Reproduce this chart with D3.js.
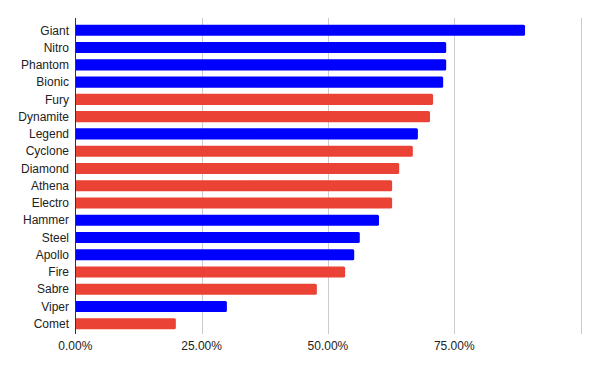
<!DOCTYPE html>
<html>
<head>
<meta charset="utf-8">
<script src="https://cdn.jsdelivr.net/npm/d3@7"></script>
<style>
  body { margin: 0; background: #fff; }
  text { font-family: "Liberation Sans", Arial, sans-serif; }
</style>
</head>
<body>
<div id="chart"></div>
<script>
// categories, top to bottom
const names = ['Giant', 'Nitro', 'Phantom', 'Bionic', 'Fury', 'Dynamite', 'Legend', 'Cyclone', 'Diamond',
    'Athena', 'Electro', 'Hammer', 'Steel', 'Apollo', 'Fire', 'Sabre', 'Viper', 'Comet'];
// share values (fraction)
const values = [0.890, 0.734, 0.734, 0.728, 0.708, 0.702, 0.678, 0.668, 0.641,
    0.627, 0.627, 0.601, 0.563, 0.552, 0.534, 0.478, 0.300, 0.199];
// group of each bar: 'b' = blue, 'r' = red
const groups = ['b', 'b', 'b', 'b', 'r', 'r', 'b', 'r', 'r', 'r', 'r', 'b', 'b', 'b', 'r', 'r', 'b', 'r'];
const xTicks = [0, 0.25, 0.5, 0.75, 1];
const xTickLabels = ['0.00%', '25.00%', '50.00%', '75.00%', ''];

const width = 600;
const height = 371;
const plot = {left: 75.3, right: 580.6, top: 18, bottom: 334};

const data = names.map((name, i) => ({name, value: values[i], group: groups[i]}));

const svg = d3.select('#chart')
    .append('svg')
        .attr('width', width)
        .attr('height', height);

const x = d3.scaleLinear()
    .domain([0, 1])
    .range([plot.left, plot.right]);

const y = d3.scaleBand()
    .domain(names)
    .range([21.7, 332.4])
    .paddingInner(0.36)
    .paddingOuter(0.18);

const color = d3.scaleOrdinal()
    .domain(['b', 'r'])
    .range(['#0000ff', '#ea4335']);

// vertical grid lines
svg.append('g')
    .attr('stroke', '#cccccc')
    .attr('stroke-width', 1)
    .selectAll('line')
    .data(xTicks.slice(1))
    .join('line')
        .attr('x1', d => Math.round(x(d)) + 0.5)
        .attr('x2', d => Math.round(x(d)) + 0.5)
        .attr('y1', plot.top)
        .attr('y2', plot.bottom);

// bars
svg.append('g')
    .selectAll('path')
    .data(data)
    .join('path')
        .attr('fill', d => color(d.group))
        .attr('d', d => {
            const x0 = x(0), x1 = x(d.value), y0 = y(d.name), h = y.bandwidth(), r = 1.5;
            return `M${x0},${y0}H${x1 - r}Q${x1},${y0} ${x1},${y0 + r}V${y0 + h - r}Q${x1},${y0 + h} ${x1 - r},${y0 + h}H${x0}Z`;
        });

// baseline
svg.append('line')
    .attr('x1', Math.round(x(0)) + 0.5)
    .attr('x2', Math.round(x(0)) + 0.5)
    .attr('y1', plot.top)
    .attr('y2', plot.bottom)
    .attr('stroke', '#333333');

// category labels
svg.append('g')
    .selectAll('text')
    .data(names)
    .join('text')
        .attr('x', 69)
        .attr('y', d => y(d) + y.bandwidth() / 2)
        .attr('dy', '0.35em')
        .attr('text-anchor', 'end')
        .attr('font-size', 12)
        .attr('fill', '#222222')
        .text(d => d);

// x tick labels
svg.append('g')
    .selectAll('text')
    .data(xTicks)
    .join('text')
        .attr('x', d => x(d))
        .attr('y', 350)
        .attr('text-anchor', 'middle')
        .attr('font-size', 12)
        .attr('fill', '#222222')
        .text((d, i) => xTickLabels[i]);
</script>
</body>
</html>
